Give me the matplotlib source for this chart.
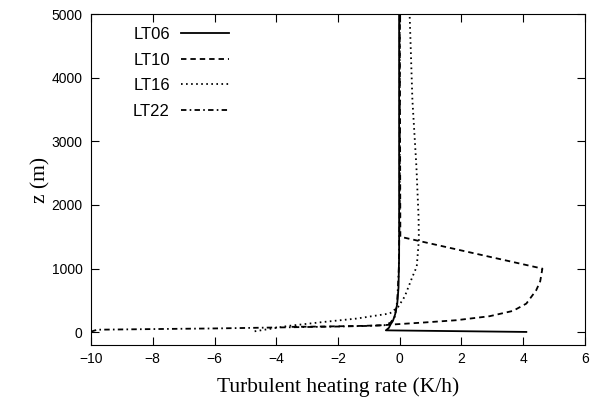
import matplotlib
matplotlib.use("Agg")
import matplotlib.pyplot as plt

# heating rate (K/h) against height (m) for four local times
lt06_rate = [4.1, -0.45, -0.35, -0.3, -0.22, -0.15, -0.08, -0.04, -0.02, -0.02]
lt06_z = [5, 30, 70, 120, 180, 280, 450, 700, 1200, 5000]

lt10_rate = [-3.5, -2.5, -1.2, -0.5, -0.1, 0.75, 1.83, 2.91, 3.67, 4.1, 4.42, 4.55, 4.62, 0.02, 0.0]
lt10_z = [85, 90, 100, 112, 126, 152, 189, 252, 336, 450, 660, 800, 1000, 1500, 5000]

lt16_rate = [-4.7, -3.6, -2.5, -1.4, -0.32, -0.05, 0.16, 0.41, 0.55, 0.62, 0.61, 0.54, 0.41, 0.32]
lt16_z = [15, 100, 160, 215, 295, 400, 560, 870, 1030, 1450, 1810, 2600, 3650, 5000]

lt22_rate = [-10.0, -9.8, -8, -6, -4, -2, -1, -0.5, -0.3, -0.15, -0.08, -0.03, 0.0, 0.0]
lt22_z = [10, 40, 50, 60, 75, 90, 100, 110, 150, 250, 500, 1000, 2000, 5000]

x_ticks = [-10, -8, -6, -4, -2, 0, 2, 4, 6]
y_ticks = [0, 1000, 2000, 3000, 4000, 5000]

plt.rcParams['font.family'] = ['Liberation Sans', 'DejaVu Sans']

fig = plt.figure(figsize=(5.96, 3.98), dpi=100)
ax = fig.add_axes([0.1527, 0.1332, 0.8288, 0.8316])

lw = 1.3
ax.plot(lt06_rate, lt06_z, color='black', lw=lw, label='LT06')
ax.plot(lt10_rate, lt10_z, color='black', lw=lw, dashes=(3.0, 2.2), label='LT10')
ax.plot(lt16_rate, lt16_z, color='black', lw=lw, dashes=(0.9, 1.9), label='LT16')
ax.plot(lt22_rate, lt22_z, color='black', lw=lw, dashes=(3.0, 1.8, 0.9, 1.8), label='LT22')

ax.set_xlim(-10, 6)
ax.set_ylim(-200, 5000)
ax.set_xticks(x_ticks)
ax.set_yticks(y_ticks)
ax.tick_params(direction='in', length=5.5, width=0.8, top=True, right=True,
               labelsize=10, pad=6)
ax.tick_params(axis='x', pad=5)
for s in ax.spines.values():
    s.set_linewidth(0.8)

serif = ['Liberation Serif', 'DejaVu Serif']
ax.set_xlabel('Turbulent heating rate (K/h)', family=serif, fontsize=15.5, labelpad=8)
ax.set_ylabel('z (m)', family=serif, fontsize=15.5, labelpad=1)

ax.legend(loc='upper left', bbox_to_anchor=(0.085, 0.961), frameon=False,
          markerfirst=False, fontsize=12, handlelength=2.9, handletextpad=0.66,
          labelspacing=0.64, borderpad=0, borderaxespad=0)

fig.savefig('out.png', dpi=100)
